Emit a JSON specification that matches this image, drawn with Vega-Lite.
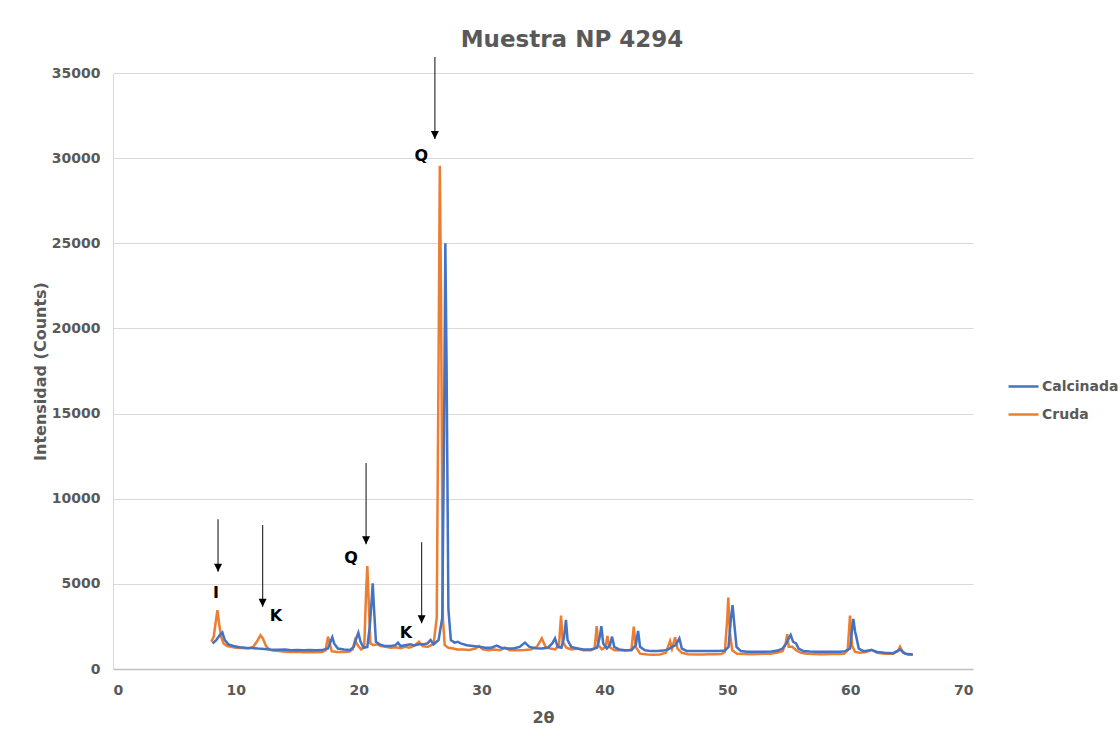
{
"$schema": "https://vega.github.io/schema/vega-lite/v6.json",
"width": 860, "height": 596,
"autosize": {"type": "none"},
"padding": {"left": 113, "top": 73, "right": 147, "bottom": 69},
"background": "white",
"config": {"view": {"stroke": null}, "font": "DejaVu Sans"},
"title": {"text": "Muestra NP 4294", "fontSize": 23, "fontWeight": "bold", "color": "#595959", "font": "DejaVu Sans", "anchor": "middle", "offset": 4, "dx": 29},
"datasets": {
"series": [
{"s":"Cruda","x":8.0,"y":1600},{"s":"Cruda","x":8.2,"y":1900},{"s":"Cruda","x":8.35,"y":2700},{"s":"Cruda","x":8.5,"y":3450},{"s":"Cruda","x":8.65,"y":2600},{"s":"Cruda","x":8.8,"y":1900},{"s":"Cruda","x":9.0,"y":1500},{"s":"Cruda","x":9.3,"y":1350},{"s":"Cruda","x":9.6,"y":1300},{"s":"Cruda","x":10.0,"y":1250},{"s":"Cruda","x":10.5,"y":1230},{"s":"Cruda","x":11.0,"y":1200},{"s":"Cruda","x":11.4,"y":1300},{"s":"Cruda","x":11.7,"y":1600},{"s":"Cruda","x":12.0,"y":1980},{"s":"Cruda","x":12.2,"y":1800},{"s":"Cruda","x":12.45,"y":1350},{"s":"Cruda","x":12.7,"y":1150},{"s":"Cruda","x":13.0,"y":1080},{"s":"Cruda","x":13.5,"y":1050},{"s":"Cruda","x":14.0,"y":1020},{"s":"Cruda","x":14.5,"y":1000},{"s":"Cruda","x":15.0,"y":1010},{"s":"Cruda","x":15.5,"y":990},{"s":"Cruda","x":16.0,"y":1000},{"s":"Cruda","x":16.5,"y":980},{"s":"Cruda","x":17.0,"y":1000},{"s":"Cruda","x":17.3,"y":1100},{"s":"Cruda","x":17.5,"y":1900},{"s":"Cruda","x":17.65,"y":1500},{"s":"Cruda","x":17.8,"y":1050},{"s":"Cruda","x":18.2,"y":1000},{"s":"Cruda","x":18.7,"y":1000},{"s":"Cruda","x":19.2,"y":1010},{"s":"Cruda","x":19.5,"y":1150},{"s":"Cruda","x":19.7,"y":1700},{"s":"Cruda","x":19.9,"y":1400},{"s":"Cruda","x":20.2,"y":1150},{"s":"Cruda","x":20.45,"y":1300},{"s":"Cruda","x":20.6,"y":4500},{"s":"Cruda","x":20.7,"y":6050},{"s":"Cruda","x":20.8,"y":4200},{"s":"Cruda","x":20.95,"y":1500},{"s":"Cruda","x":21.2,"y":1400},{"s":"Cruda","x":21.5,"y":1450},{"s":"Cruda","x":21.8,"y":1350},{"s":"Cruda","x":22.2,"y":1300},{"s":"Cruda","x":22.6,"y":1250},{"s":"Cruda","x":23.0,"y":1280},{"s":"Cruda","x":23.4,"y":1220},{"s":"Cruda","x":23.8,"y":1300},{"s":"Cruda","x":24.1,"y":1250},{"s":"Cruda","x":24.5,"y":1350},{"s":"Cruda","x":24.9,"y":1600},{"s":"Cruda","x":25.2,"y":1350},{"s":"Cruda","x":25.6,"y":1300},{"s":"Cruda","x":25.9,"y":1400},{"s":"Cruda","x":26.1,"y":1500},{"s":"Cruda","x":26.35,"y":3000},{"s":"Cruda","x":26.5,"y":18000},{"s":"Cruda","x":26.6,"y":29550},{"s":"Cruda","x":26.7,"y":22000},{"s":"Cruda","x":26.85,"y":3000},{"s":"Cruda","x":27.0,"y":1400},{"s":"Cruda","x":27.3,"y":1250},{"s":"Cruda","x":27.7,"y":1200},{"s":"Cruda","x":28.0,"y":1150},{"s":"Cruda","x":28.5,"y":1150},{"s":"Cruda","x":29.0,"y":1120},{"s":"Cruda","x":29.5,"y":1200},{"s":"Cruda","x":29.8,"y":1350},{"s":"Cruda","x":30.1,"y":1150},{"s":"Cruda","x":30.6,"y":1100},{"s":"Cruda","x":31.0,"y":1150},{"s":"Cruda","x":31.5,"y":1100},{"s":"Cruda","x":31.9,"y":1250},{"s":"Cruda","x":32.3,"y":1100},{"s":"Cruda","x":33.0,"y":1100},{"s":"Cruda","x":33.5,"y":1120},{"s":"Cruda","x":34.0,"y":1150},{"s":"Cruda","x":34.5,"y":1300},{"s":"Cruda","x":34.9,"y":1800},{"s":"Cruda","x":35.2,"y":1300},{"s":"Cruda","x":35.6,"y":1200},{"s":"Cruda","x":36.0,"y":1150},{"s":"Cruda","x":36.3,"y":1400},{"s":"Cruda","x":36.47,"y":3130},{"s":"Cruda","x":36.6,"y":1600},{"s":"Cruda","x":36.9,"y":1250},{"s":"Cruda","x":37.3,"y":1150},{"s":"Cruda","x":37.8,"y":1200},{"s":"Cruda","x":38.3,"y":1100},{"s":"Cruda","x":38.9,"y":1100},{"s":"Cruda","x":39.2,"y":1200},{"s":"Cruda","x":39.37,"y":2520},{"s":"Cruda","x":39.5,"y":1400},{"s":"Cruda","x":39.8,"y":1150},{"s":"Cruda","x":40.1,"y":1300},{"s":"Cruda","x":40.24,"y":1940},{"s":"Cruda","x":40.4,"y":1300},{"s":"Cruda","x":40.8,"y":1100},{"s":"Cruda","x":41.3,"y":1100},{"s":"Cruda","x":41.8,"y":1080},{"s":"Cruda","x":42.2,"y":1150},{"s":"Cruda","x":42.39,"y":2490},{"s":"Cruda","x":42.55,"y":1300},{"s":"Cruda","x":42.9,"y":900},{"s":"Cruda","x":43.5,"y":850},{"s":"Cruda","x":44.0,"y":830},{"s":"Cruda","x":44.5,"y":850},{"s":"Cruda","x":45.0,"y":950},{"s":"Cruda","x":45.34,"y":1640},{"s":"Cruda","x":45.5,"y":1200},{"s":"Cruda","x":45.75,"y":1860},{"s":"Cruda","x":45.95,"y":1200},{"s":"Cruda","x":46.3,"y":950},{"s":"Cruda","x":46.8,"y":870},{"s":"Cruda","x":47.5,"y":850},{"s":"Cruda","x":48.0,"y":850},{"s":"Cruda","x":48.5,"y":870},{"s":"Cruda","x":49.0,"y":860},{"s":"Cruda","x":49.5,"y":880},{"s":"Cruda","x":49.8,"y":1000},{"s":"Cruda","x":50.0,"y":3000},{"s":"Cruda","x":50.08,"y":4200},{"s":"Cruda","x":50.2,"y":2200},{"s":"Cruda","x":50.4,"y":1100},{"s":"Cruda","x":50.8,"y":900},{"s":"Cruda","x":51.5,"y":880},{"s":"Cruda","x":52.0,"y":870},{"s":"Cruda","x":52.5,"y":880},{"s":"Cruda","x":53.0,"y":890},{"s":"Cruda","x":53.5,"y":900},{"s":"Cruda","x":54.0,"y":950},{"s":"Cruda","x":54.5,"y":1050},{"s":"Cruda","x":54.75,"y":1500},{"s":"Cruda","x":54.88,"y":2050},{"s":"Cruda","x":55.0,"y":1300},{"s":"Cruda","x":55.3,"y":1300},{"s":"Cruda","x":55.6,"y":1100},{"s":"Cruda","x":56.0,"y":950},{"s":"Cruda","x":56.5,"y":900},{"s":"Cruda","x":57.0,"y":880},{"s":"Cruda","x":57.5,"y":870},{"s":"Cruda","x":58.0,"y":870},{"s":"Cruda","x":58.5,"y":880},{"s":"Cruda","x":59.0,"y":880},{"s":"Cruda","x":59.5,"y":900},{"s":"Cruda","x":59.8,"y":1100},{"s":"Cruda","x":59.99,"y":3130},{"s":"Cruda","x":60.15,"y":1400},{"s":"Cruda","x":60.4,"y":1000},{"s":"Cruda","x":60.8,"y":950},{"s":"Cruda","x":61.3,"y":1000},{"s":"Cruda","x":61.75,"y":1120},{"s":"Cruda","x":62.2,"y":950},{"s":"Cruda","x":62.8,"y":900},{"s":"Cruda","x":63.5,"y":900},{"s":"Cruda","x":63.9,"y":1050},{"s":"Cruda","x":64.06,"y":1310},{"s":"Cruda","x":64.3,"y":950},{"s":"Cruda","x":64.7,"y":850},{"s":"Cruda","x":65.1,"y":830},
{"s":"Calcinada","x":8.1,"y":1500},{"s":"Calcinada","x":8.4,"y":1700},{"s":"Calcinada","x":8.7,"y":2000},{"s":"Calcinada","x":8.9,"y":2150},{"s":"Calcinada","x":9.1,"y":1700},{"s":"Calcinada","x":9.4,"y":1450},{"s":"Calcinada","x":9.8,"y":1350},{"s":"Calcinada","x":10.3,"y":1280},{"s":"Calcinada","x":10.8,"y":1250},{"s":"Calcinada","x":11.3,"y":1230},{"s":"Calcinada","x":11.8,"y":1200},{"s":"Calcinada","x":12.3,"y":1180},{"s":"Calcinada","x":12.8,"y":1150},{"s":"Calcinada","x":13.5,"y":1130},{"s":"Calcinada","x":14.0,"y":1150},{"s":"Calcinada","x":14.5,"y":1100},{"s":"Calcinada","x":15.0,"y":1120},{"s":"Calcinada","x":15.5,"y":1100},{"s":"Calcinada","x":16.0,"y":1120},{"s":"Calcinada","x":16.5,"y":1100},{"s":"Calcinada","x":17.0,"y":1110},{"s":"Calcinada","x":17.5,"y":1200},{"s":"Calcinada","x":17.7,"y":1600},{"s":"Calcinada","x":17.85,"y":1860},{"s":"Calcinada","x":18.0,"y":1500},{"s":"Calcinada","x":18.3,"y":1200},{"s":"Calcinada","x":18.8,"y":1150},{"s":"Calcinada","x":19.3,"y":1120},{"s":"Calcinada","x":19.6,"y":1300},{"s":"Calcinada","x":19.8,"y":1800},{"s":"Calcinada","x":19.97,"y":2130},{"s":"Calcinada","x":20.15,"y":1600},{"s":"Calcinada","x":20.4,"y":1250},{"s":"Calcinada","x":20.7,"y":1300},{"s":"Calcinada","x":20.9,"y":2500},{"s":"Calcinada","x":21.05,"y":4000},{"s":"Calcinada","x":21.14,"y":5030},{"s":"Calcinada","x":21.25,"y":3500},{"s":"Calcinada","x":21.4,"y":1600},{"s":"Calcinada","x":21.7,"y":1450},{"s":"Calcinada","x":22.1,"y":1350},{"s":"Calcinada","x":22.6,"y":1350},{"s":"Calcinada","x":23.0,"y":1400},{"s":"Calcinada","x":23.2,"y":1550},{"s":"Calcinada","x":23.4,"y":1350},{"s":"Calcinada","x":23.8,"y":1400},{"s":"Calcinada","x":24.2,"y":1450},{"s":"Calcinada","x":24.5,"y":1380},{"s":"Calcinada","x":24.9,"y":1450},{"s":"Calcinada","x":25.3,"y":1450},{"s":"Calcinada","x":25.6,"y":1500},{"s":"Calcinada","x":25.85,"y":1700},{"s":"Calcinada","x":26.1,"y":1450},{"s":"Calcinada","x":26.5,"y":1700},{"s":"Calcinada","x":26.8,"y":3000},{"s":"Calcinada","x":26.95,"y":14000},{"s":"Calcinada","x":27.05,"y":25000},{"s":"Calcinada","x":27.15,"y":18000},{"s":"Calcinada","x":27.3,"y":3500},{"s":"Calcinada","x":27.5,"y":1700},{"s":"Calcinada","x":27.8,"y":1550},{"s":"Calcinada","x":28.05,"y":1600},{"s":"Calcinada","x":28.3,"y":1500},{"s":"Calcinada","x":28.8,"y":1400},{"s":"Calcinada","x":29.3,"y":1350},{"s":"Calcinada","x":29.8,"y":1300},{"s":"Calcinada","x":30.3,"y":1250},{"s":"Calcinada","x":30.8,"y":1250},{"s":"Calcinada","x":31.23,"y":1370},{"s":"Calcinada","x":31.6,"y":1250},{"s":"Calcinada","x":32.1,"y":1200},{"s":"Calcinada","x":32.6,"y":1200},{"s":"Calcinada","x":33.1,"y":1300},{"s":"Calcinada","x":33.53,"y":1550},{"s":"Calcinada","x":33.9,"y":1300},{"s":"Calcinada","x":34.4,"y":1220},{"s":"Calcinada","x":34.9,"y":1200},{"s":"Calcinada","x":35.4,"y":1250},{"s":"Calcinada","x":35.75,"y":1500},{"s":"Calcinada","x":35.98,"y":1800},{"s":"Calcinada","x":36.2,"y":1300},{"s":"Calcinada","x":36.5,"y":1250},{"s":"Calcinada","x":36.7,"y":1800},{"s":"Calcinada","x":36.87,"y":2880},{"s":"Calcinada","x":37.0,"y":1700},{"s":"Calcinada","x":37.3,"y":1300},{"s":"Calcinada","x":37.8,"y":1200},{"s":"Calcinada","x":38.3,"y":1150},{"s":"Calcinada","x":38.9,"y":1150},{"s":"Calcinada","x":39.4,"y":1250},{"s":"Calcinada","x":39.6,"y":1800},{"s":"Calcinada","x":39.75,"y":2520},{"s":"Calcinada","x":39.9,"y":1500},{"s":"Calcinada","x":40.2,"y":1200},{"s":"Calcinada","x":40.45,"y":1400},{"s":"Calcinada","x":40.62,"y":1900},{"s":"Calcinada","x":40.8,"y":1300},{"s":"Calcinada","x":41.2,"y":1150},{"s":"Calcinada","x":41.7,"y":1100},{"s":"Calcinada","x":42.2,"y":1100},{"s":"Calcinada","x":42.55,"y":1400},{"s":"Calcinada","x":42.74,"y":2230},{"s":"Calcinada","x":42.9,"y":1300},{"s":"Calcinada","x":43.3,"y":1100},{"s":"Calcinada","x":43.8,"y":1050},{"s":"Calcinada","x":44.3,"y":1050},{"s":"Calcinada","x":44.8,"y":1080},{"s":"Calcinada","x":45.2,"y":1150},{"s":"Calcinada","x":45.5,"y":1300},{"s":"Calcinada","x":45.8,"y":1400},{"s":"Calcinada","x":46.1,"y":1800},{"s":"Calcinada","x":46.3,"y":1200},{"s":"Calcinada","x":46.7,"y":1060},{"s":"Calcinada","x":47.2,"y":1050},{"s":"Calcinada","x":47.8,"y":1050},{"s":"Calcinada","x":48.3,"y":1060},{"s":"Calcinada","x":48.8,"y":1050},{"s":"Calcinada","x":49.3,"y":1060},{"s":"Calcinada","x":49.8,"y":1080},{"s":"Calcinada","x":50.1,"y":1300},{"s":"Calcinada","x":50.3,"y":3000},{"s":"Calcinada","x":50.43,"y":3750},{"s":"Calcinada","x":50.55,"y":2800},{"s":"Calcinada","x":50.75,"y":1300},{"s":"Calcinada","x":51.1,"y":1050},{"s":"Calcinada","x":51.6,"y":1020},{"s":"Calcinada","x":52.1,"y":1010},{"s":"Calcinada","x":52.6,"y":1020},{"s":"Calcinada","x":53.1,"y":1020},{"s":"Calcinada","x":53.6,"y":1030},{"s":"Calcinada","x":54.1,"y":1080},{"s":"Calcinada","x":54.5,"y":1200},{"s":"Calcinada","x":54.8,"y":1500},{"s":"Calcinada","x":55.0,"y":1800},{"s":"Calcinada","x":55.16,"y":2000},{"s":"Calcinada","x":55.35,"y":1600},{"s":"Calcinada","x":55.6,"y":1500},{"s":"Calcinada","x":55.8,"y":1200},{"s":"Calcinada","x":56.2,"y":1050},{"s":"Calcinada","x":56.7,"y":1030},{"s":"Calcinada","x":57.2,"y":1020},{"s":"Calcinada","x":57.7,"y":1010},{"s":"Calcinada","x":58.2,"y":1020},{"s":"Calcinada","x":58.7,"y":1010},{"s":"Calcinada","x":59.2,"y":1020},{"s":"Calcinada","x":59.6,"y":1050},{"s":"Calcinada","x":60.0,"y":1200},{"s":"Calcinada","x":60.15,"y":2300},{"s":"Calcinada","x":60.26,"y":2940},{"s":"Calcinada","x":60.4,"y":2200},{"s":"Calcinada","x":60.5,"y":1900},{"s":"Calcinada","x":60.7,"y":1200},{"s":"Calcinada","x":61.1,"y":1050},{"s":"Calcinada","x":61.75,"y":1120},{"s":"Calcinada","x":62.2,"y":1000},{"s":"Calcinada","x":62.8,"y":950},{"s":"Calcinada","x":63.5,"y":930},{"s":"Calcinada","x":64.06,"y":1150},{"s":"Calcinada","x":64.5,"y":900},{"s":"Calcinada","x":65.1,"y":850}
],
"arrows": [
{"x":8.55,"top":8790,"tip":5714},
{"x":12.18,"top":8456,"tip":3660},
{"x":20.6,"top":12097,"tip":7320},
{"x":25.12,"top":7440,"tip":2683},
{"x":26.2,"top":35940,"tip":31124}
],
"labels": [
{"t":"I","x":8.38,"y":4463},
{"t":"K","x":13.27,"y":3112},
{"t":"Q","x":19.37,"y":6518},
{"t":"K","x":23.85,"y":2114},
{"t":"Q","x":25.1,"y":30125}
]
},
"layer": [
{
"data": {"name": "series"},
"mark": {"type": "line", "strokeWidth": 2.5, "clip": false},
"encoding": {
"x": {"field": "x", "type": "quantitative", "scale": {"domain": [0, 70]},
"axis": {"title": "2θ", "values": [0,10,20,30,40,50,60,70], "grid": false, "ticks": false, "domainColor": "#BFBFBF", "domainWidth": 1.5, "labelFontSize": 14, "labelFontWeight": "bold", "labelColor": "#595959", "labelPadding": 14, "titleFontSize": 16, "titleFontWeight": "bold", "titleColor": "#595959", "titlePadding": 12}},
"y": {"field": "y", "type": "quantitative", "scale": {"domain": [0, 35000]},
"axis": {"title": "Intensidad (Counts)", "values": [0,5000,10000,15000,20000,25000,30000,35000], "format": "d", "gridColor": "#D9D9D9", "gridWidth": 1.2, "ticks": false, "domainColor": "#D9D9D9", "labelFontSize": 14, "labelFontWeight": "bold", "labelColor": "#595959", "labelPadding": 13, "titleFontSize": 16, "titleFontWeight": "bold", "titleColor": "#595959", "titlePadding": 3}},
"color": {"field": "s", "type": "nominal", "scale": {"domain": ["Calcinada", "Cruda"], "range": ["#4472C4", "#ED7D31"]},
"legend": {"title": null, "orient": "none", "legendX": 894, "legendY": 297, "symbolType": "stroke", "symbolStrokeWidth": 2.5, "symbolSize": 900, "labelFontSize": 14, "labelFontWeight": "bold", "labelColor": "#595959", "rowPadding": 4, "labelOffset": 2}}
}
},
{
"data": {"name": "arrows"},
"mark": {"type": "rule", "color": "#333333", "strokeWidth": 1.2, "clip": false},
"encoding": {"x": {"field": "x", "type": "quantitative"}, "y": {"field": "top", "type": "quantitative"}, "y2": {"field": "tip"}}
},
{
"data": {"name": "arrows"},
"mark": {"type": "point", "shape": "M-1,-2L1,-2L0,0Z", "size": 64, "filled": true, "color": "#000000", "opacity": 1, "clip": false},
"encoding": {"x": {"field": "x", "type": "quantitative"}, "y": {"field": "tip", "type": "quantitative"}}
},
{
"data": {"name": "labels"},
"mark": {"type": "text", "fontSize": 16, "fontWeight": "bold", "color": "#000000", "align": "center", "baseline": "middle"},
"encoding": {"x": {"field": "x", "type": "quantitative"}, "y": {"field": "y", "type": "quantitative"}, "text": {"field": "t"}}
}
]
}
